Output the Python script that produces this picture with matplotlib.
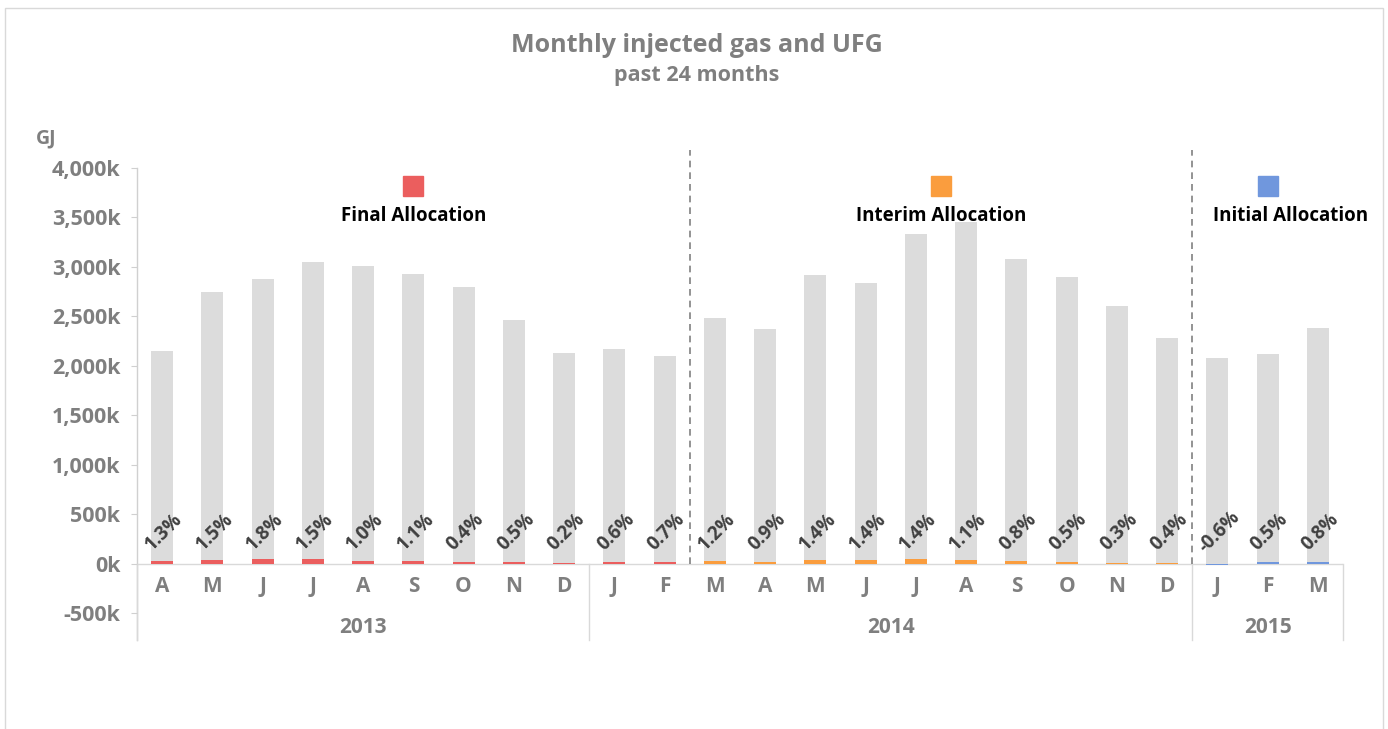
import matplotlib
matplotlib.use("Agg")
import matplotlib.pyplot as plt
from matplotlib.patches import Rectangle

plt.rcParams['font.family'] = ['Open Sans', 'DejaVu Sans']

# ---- data ----
months = ["A", "M", "J", "J", "A", "S", "O", "N", "D",
          "J", "F", "M", "A", "M", "J", "J", "A", "S", "O", "N", "D",
          "J", "F", "M"]
years = ["2013", "2014", "2015"]
year_spans = [(0, 8), (9, 20), (21, 23)]
injected_k = [2150, 2745, 2880, 3050, 3010, 2930, 2800, 2465, 2130,
              2170, 2100, 2485, 2375, 2920, 2840, 3330, 3450, 3080, 2900, 2605, 2280,
              2080, 2120, 2385]
ufg_k = [26, 38, 50, 44, 28, 30, 11, 12, 4,
         13, 14, 28, 20, 38, 37, 45, 36, 24, 14, 8, 9,
         -12, 11, 19]
ufg_pct = ["1.3%", "1.5%", "1.8%", "1.5%", "1.0%", "1.1%", "0.4%", "0.5%", "0.2%",
           "0.6%", "0.7%", "1.2%", "0.9%", "1.4%", "1.4%", "1.4%", "1.1%", "0.8%", "0.5%", "0.3%", "0.4%",
           "-0.6%", "0.5%", "0.8%"]
alloc_names = ["Final Allocation", "Interim Allocation", "Initial Allocation"]
alloc_colors = ["#EB5E5E", "#FA9D3E", "#7097DD"]
alloc_of_bar = [0] * 11 + [1] * 10 + [2] * 3
ytick_vals = [-500, 0, 500, 1000, 1500, 2000, 2500, 3000, 3500, 4000]

GRAY_TXT = "#7F7F7F"

fig = plt.figure(figsize=(13.88, 7.29), dpi=100)
ax = fig.add_axes([137 / 1388, 116 / 729, 1206 / 1388, 463 / 729])

x = list(range(len(months)))
ax.bar(x, injected_k, width=0.44, color="#DCDCDC", zorder=2)
ax.bar(x, ufg_k, width=0.44, color=[alloc_colors[a] for a in alloc_of_bar], zorder=3)

ax.set_xlim(-0.5, len(months) - 0.5)
ax.set_ylim(-500, 4180)

for s in ax.spines.values():
    s.set_visible(False)

ax.set_yticks(ytick_vals)
ax.set_yticklabels([f"{v:,}k" for v in ytick_vals], fontsize=15.5, fontweight="bold", color=GRAY_TXT)
ax.tick_params(axis="y", length=4, color="#D0D0D0", pad=8)
ax.set_xticks([])

# y axis line extended
ax.plot([-0.5, -0.5], [4000, -768], color="#D0D0D0", lw=1, clip_on=False, zorder=1)
# zero line
ax.axhline(0, color="#D9D9D9", lw=1, zorder=1)

# category separators
for xs in [-0.5, 8.5, 20.5, 23.5]:
    ax.plot([xs, xs], [0, -768], color="#D9D9D9", lw=1, clip_on=False, zorder=1)

# dashed allocation dividers
for xs in [10.5, 20.5]:
    ax.plot([xs, xs], [0, 4180], color="#808080", lw=1.2, ls=(0, (4, 3)), zorder=4)

# month labels
for i, m in enumerate(months):
    ax.text(i, -235, m, ha="center", va="center", fontsize=15, fontweight="bold", color=GRAY_TXT)
for (a, b), yname in zip(year_spans, years):
    ax.text((a + b) / 2, -650, yname, ha="center", va="center", fontsize=15, fontweight="bold", color=GRAY_TXT)

# pct labels
for i, p in enumerate(ufg_pct):
    ax.text(i + 0.04, 320, p, ha="center", va="center", rotation=45, fontsize=13.5,
            fontweight="bold", color="#404040", zorder=5, rotation_mode="anchor")

# allocation markers
marker_x = [5, 15.5, 22]
label_x = [5, 15.5, 22.45]
for mx, lx, name, col in zip(marker_x, label_x, alloc_names, alloc_colors):
    ax.add_patch(Rectangle((mx - 0.2, 3720), 0.4, 200, color=col, zorder=5))
    ax.text(lx, 3510, name, ha="center", va="center", fontsize=13.5, fontweight="bold",
            color="black", zorder=5)

# GJ
fig.text(46 / 1388, 1 - 138 / 729, "GJ", ha="center", va="center", fontsize=14,
         fontweight="bold", color=GRAY_TXT)

# titles
fig.text(697 / 1388, 1 - 45 / 729, "Monthly injected gas and UFG", ha="center", va="center",
         fontsize=18, fontweight="bold", color=GRAY_TXT)
fig.text(697 / 1388, 1 - 75 / 729, "past 24 months", ha="center", va="center",
         fontsize=15.5, fontweight="bold", color=GRAY_TXT)

# figure border
fig.patches.append(Rectangle((5 / 1388, -0.01), 1378 / 1388, 1 - 8 / 729 + 0.01,
                             transform=fig.transFigure, fill=False, edgecolor="#D9D9D9", lw=1))

fig.savefig("out.png", dpi=100)
